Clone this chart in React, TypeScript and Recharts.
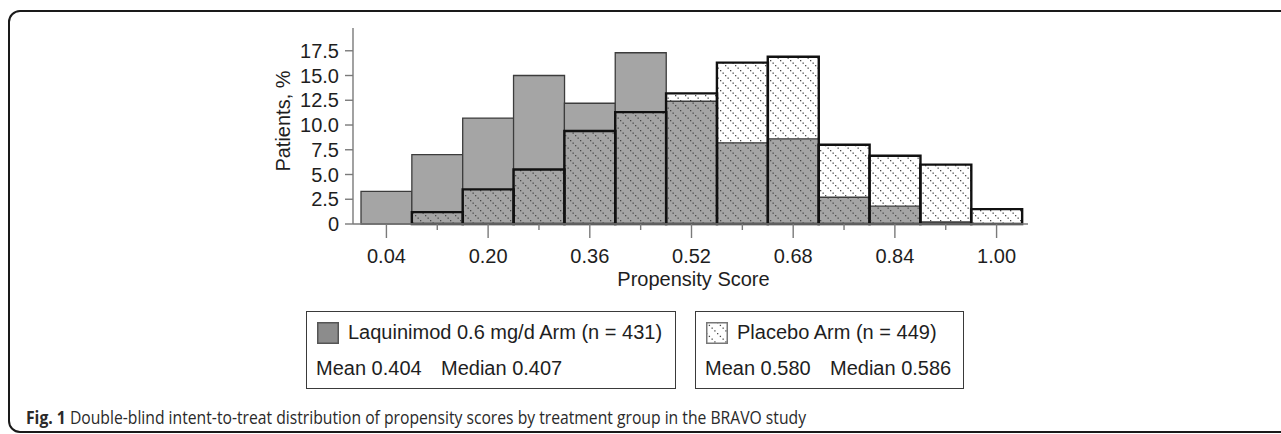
import { BarChart, Bar, XAxis, YAxis } from "recharts";

// histogram bins (centre of each 0.08-wide propensity score bin)
const bins = ["0.04", "0.12", "0.20", "0.28", "0.36", "0.44", "0.52", "0.60", "0.68", "0.76", "0.84", "0.92", "1.00"];
const laquinimodPct = [3.3, 7.0, 10.7, 15.0, 12.2, 17.3, 12.4, 8.2, 8.6, 2.7, 1.8, 0.2, 0];
const placeboPct = [0, 1.2, 3.5, 5.5, 9.4, 11.3, 13.2, 16.3, 16.9, 8.0, 6.9, 6.0, 1.5];
const labeledBins = ["0.04", "0.20", "0.36", "0.52", "0.68", "0.84", "1.00"];
const yTicks = [0, 2.5, 5, 7.5, 10, 12.5, 15, 17.5];

const laqLegend = ["Laquinimod 0.6 mg/d Arm (n = 431)", "0.404", "0.407"];
const plaLegend = ["Placebo Arm (n = 449)", "0.580", "0.586"];

const FONT = '"Liberation Sans", Arial, sans-serif';
const AXIS_GRAY = "#7a7a7a";

const chartData = bins.map((b, i) => ({ bin: b, laq: laquinimodPct[i], pla: placeboPct[i] }));

function BinTick({ x, y, payload }: any) {
    const major = labeledBins.includes(payload.value);
    return (
        <g>
            <line x1={x} x2={x} y1={y} y2={y + (major ? 14 : 6)} stroke={AXIS_GRAY} strokeWidth={1.4} />
            {major && (
                <text x={x} y={y + 39} textAnchor="middle" fontSize={20} fontFamily={FONT} fill="#1e1e1e">
                    {payload.value}
                </text>
            )}
        </g>
    );
}

// dotted diagonal "\" lines
function DotPattern({ id, size, step }: { id: string; size: number; step: number }) {
    const dots = [];
    for (let p = 0; p < size; p += step) dots.push(p);
    return (
        <pattern id={id} patternUnits="userSpaceOnUse" width={size} height={size}>
            {dots.map((p) => (
                <rect key={p} x={p} y={p} width={1.3} height={1.3} fill="#4a4a4a" />
            ))}
        </pattern>
    );
}

function HatchSwatch({ id, gray }: { id: string; gray: boolean }) {
    return (
        <svg width={22} height={22} style={{ position: "absolute", left: 10, top: 10 }}>
            <defs>
                <DotPattern id={id} size={11} step={2.75} />
            </defs>
            <rect x={0.75} y={0.75} width={20.5} height={20.5}
                fill={gray ? "#8c8c8c" : `url(#${id})`} stroke={gray ? "#555" : "#777"} strokeWidth={1.5} />
        </svg>
    );
}

function LegendBox({ left, width, entry, gray, id }: { left: number; width: number; entry: string[]; gray: boolean; id: string }) {
    return (
        <div style={{
            position: "absolute", left, top: 311, width, height: 78, boxSizing: "border-box",
            border: "1.5px solid #3a3a3a", fontFamily: FONT, fontSize: 20, color: "#1e1e1e",
        }}>
            <HatchSwatch id={id} gray={gray} />
            <div style={{ position: "absolute", left: 41, top: 8, lineHeight: "24px", whiteSpace: "nowrap" }}>{entry[0]}</div>
            <div style={{ position: "absolute", left: 9, top: 44, lineHeight: "24px", whiteSpace: "nowrap" }}>Mean {entry[1]}</div>
            <div style={{ position: "absolute", left: 134, top: 44, lineHeight: "24px", whiteSpace: "nowrap" }}>Median {entry[2]}</div>
        </div>
    );
}

export default function App() {
    return (
        <div style={{ position: "absolute", left: 0, top: 0, width: 1281, height: 434, overflow: "hidden", background: "#fff" }}>
            {/* figure frame */}
            <div style={{
                position: "absolute", left: 8, top: 10, width: 1320, height: 423, boxSizing: "border-box",
                border: "2px solid #1a1a1a", borderRadius: 12,
            }} />

            <div style={{ position: "absolute", left: 0, top: 0 }}>
                <BarChart
                    width={1281}
                    height={300}
                    data={chartData}
                    margin={{ top: 28, right: 253, left: 270, bottom: 6 }}
                    barCategoryGap={0}
                    barGap={0}
                >
                    <defs>
                        <DotPattern id="dotHatch" size={10} step={2.5} />
                    </defs>
                    <XAxis
                        xAxisId="main"
                        dataKey="bin"
                        height={70}
                        interval={0}
                        padding={{ left: 8, right: 6 }}
                        tickSize={0}
                        tickMargin={0}
                        tickLine={false}
                        tick={<BinTick />}
                        axisLine={{ stroke: AXIS_GRAY, strokeWidth: 1.4 }}
                        label={{
                            content: ({ viewBox }: any) => (
                                <text x={viewBox.x + viewBox.width / 2 + 3} y={viewBox.y + 62} textAnchor="middle"
                                    fontSize={20} fontFamily={FONT} fill="#1e1e1e">Propensity Score</text>
                            ),
                        }}
                    />
                    <XAxis xAxisId="overlay" dataKey="bin" hide padding={{ left: 8, right: 6 }} />
                    <XAxis
                        xAxisId="top"
                        dataKey="bin"
                        orientation="top"
                        height={0}
                        tick={false}
                        tickLine={false}
                        axisLine={{ stroke: AXIS_GRAY, strokeWidth: 1.4 }}
                    />
                    <YAxis
                        width={83}
                        domain={[0, 19.8]}
                        ticks={yTicks}
                        interval={0}
                        tickSize={8}
                        tickMargin={6}
                        tickFormatter={(v: number) => (v === 0 ? "0" : v.toFixed(1))}
                        tick={{ fontSize: 20, fontFamily: FONT, fill: "#1e1e1e" }}
                        tickLine={{ stroke: AXIS_GRAY, strokeWidth: 1.4 }}
                        axisLine={{ stroke: AXIS_GRAY, strokeWidth: 1.4 }}
                        label={{
                            content: ({ viewBox }: any) => {
                                const lx = viewBox.x + 20;
                                const ly = viewBox.y + viewBox.height / 2 - 5;
                                return (
                                    <text x={lx} y={ly} textAnchor="middle" transform={`rotate(-90 ${lx} ${ly})`}
                                        fontSize={20} fontFamily={FONT} fill="#1e1e1e">Patients, %</text>
                                );
                            },
                        }}
                    />
                    <YAxis
                        yAxisId="right"
                        orientation="right"
                        width={0}
                        tick={false}
                        tickLine={false}
                        axisLine={{ stroke: AXIS_GRAY, strokeWidth: 1.4 }}
                    />
                    <Bar xAxisId="main" dataKey="laq" fill="#a5a5a5" stroke="#3c3c3c" strokeWidth={1.3} isAnimationActive={false} />
                    <Bar xAxisId="overlay" dataKey="pla" fill="url(#dotHatch)" stroke="#111" strokeWidth={2.4} isAnimationActive={false} />
                </BarChart>
            </div>

            <LegendBox left={306} width={370} entry={laqLegend} gray={true} id="swLaq" />
            <LegendBox left={695} width={269} entry={plaLegend} gray={false} id="swPla" />

            <div style={{
                position: "absolute", left: 26, top: 406, whiteSpace: "nowrap",
                fontFamily: '"Open Sans", sans-serif', fontSize: 18, lineHeight: "22px", color: "#2a2a2a",
                transform: "scaleX(0.872)", transformOrigin: "left center",
            }}>
                <b>Fig. 1</b> Double-blind intent-to-treat distribution of propensity scores by treatment group in the BRAVO study
            </div>
        </div>
    );
}
